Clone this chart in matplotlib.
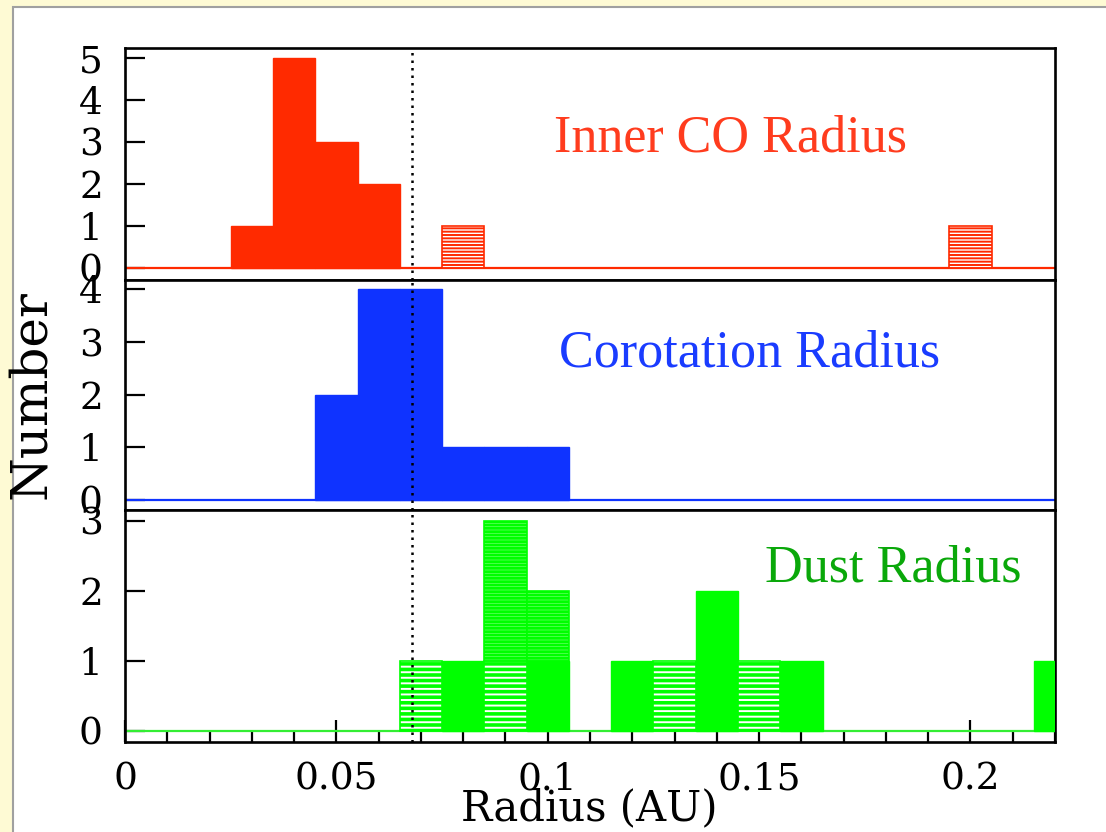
import numpy as np
import matplotlib
matplotlib.use('Agg')
import matplotlib.pyplot as plt
from matplotlib.patches import Rectangle
from matplotlib.ticker import MultipleLocator

# histogram bins are 0.01 AU wide, values are bin centres and counts
bin_width = 0.01

co_centers = [0.03, 0.04, 0.05, 0.06]
co_counts = [1, 5, 3, 2]
co_hatch_centers = [0.08, 0.20]
co_hatch_counts = [1, 1]

corot_centers = [0.05, 0.06, 0.07, 0.08, 0.09, 0.10]
corot_counts = [2, 4, 4, 1, 1, 1]

dust_centers = [0.08, 0.10, 0.12, 0.14, 0.16, 0.22]
dust_counts = [1, 1, 1, 2, 1, 1]
dust_hatch_centers = [0.07, 0.09, 0.13, 0.15]
dust_hatch_counts = [1, 1, 1, 1]
# second hatched group, stacked on top of the first count in the bin
dust_hatch2_centers = [0.09, 0.10]
dust_hatch2_counts = [2, 1]
dust_hatch2_bottom = [1, 1]

co_inner_median = 0.068

red = '#ff2a00'
blue = '#0f33ff'
green = '#00ff00'

W, H = 1106, 832
fig = plt.figure(figsize=(W / 100, H / 100), dpi=100)
fig.patch.set_facecolor('#fefad4')
# white slide panel with grey edge on left/top
fig.patches.append(Rectangle((13 / W, -0.01), 1, 1.01 - 7 / H, transform=fig.transFigure,
                             facecolor='white', edgecolor='#a0a0a0', linewidth=1.5, zorder=-5))

tick_font = dict(family='DejaVu Serif', size=27)


def panel(top, bottom, ylim, nticks):
    ax = fig.add_axes([125 / W, 1 - bottom / H, 930 / W, (bottom - top) / H])
    ax.set_xlim(0, 0.22)
    ax.set_ylim(*ylim)
    ax.set_axisbelow(True)
    for s in ax.spines.values():
        s.set_linewidth(1.9)
    ax.set_yticks(range(nticks + 1))
    ax.tick_params(axis='y', direction='in', length=14.5, width=1.6, left=True, right=False, pad=16)
    ax.tick_params(axis='x', bottom=False, labelbottom=False)
    for lab in ax.get_yticklabels():
        lab.set_fontfamily(tick_font['family'])
        lab.set_fontsize(tick_font['size'])
    ax.axvline(co_inner_median, color='black', lw=1.8, dashes=(1, 2.0), zorder=5)
    return ax


ax1 = panel(48, 280, (-0.29, 5.24), 5)
ax2 = panel(280, 510, (-0.19, 4.18), 4)
ax3 = panel(510, 742, (-0.157, 3.15), 3)

# Inner CO radius
ax1.axhline(0, color=red, lw=1.6, zorder=2)
ax1.bar(co_centers, co_counts, width=bin_width, color=red, edgecolor=red, linewidth=1.0, zorder=3)
with plt.rc_context({'hatch.linewidth': 1.4}):
    ax1.bar(co_hatch_centers, co_hatch_counts, width=bin_width, facecolor='white',
            edgecolor=red, hatch='-----', linewidth=1.2, zorder=3)

# Corotation radius
ax2.axhline(0, color=blue, lw=1.6, zorder=2)
ax2.bar(corot_centers, corot_counts, width=bin_width, color=blue, edgecolor=blue, linewidth=1.0, zorder=3)

# Dust radius
ax3.axhline(0, color='#33ee33', lw=1.6, zorder=2)
ax3.bar(dust_centers, dust_counts, width=bin_width, color=green, edgecolor=green, linewidth=1.0, zorder=3)
with plt.rc_context({'hatch.linewidth': 2.6}):
    ax3.bar(dust_hatch_centers, dust_hatch_counts, width=bin_width, facecolor='white',
            edgecolor=green, hatch='---', linewidth=1.2, zorder=3)
with plt.rc_context({'hatch.linewidth': 2.2}):
    ax3.bar(dust_hatch2_centers, dust_hatch2_counts, bottom=dust_hatch2_bottom, width=bin_width,
            facecolor='white', edgecolor=green, hatch='-----', linewidth=1.2, zorder=3)

ax3.xaxis.set_major_locator(MultipleLocator(0.05))
ax3.xaxis.set_minor_locator(MultipleLocator(0.01))
ax3.tick_params(axis='x', which='major', bottom=True, labelbottom=True, direction='in',
                length=16, width=1.6, pad=14)
ax3.tick_params(axis='x', which='minor', bottom=True, direction='in', length=7.5, width=1.6)
ax3.set_xticks([0, 0.05, 0.1, 0.15, 0.2])
ax3.set_xticklabels(['0', '0.05', '0.1', '0.15', '0.2'], **tick_font)

# panel titles
fig.text(731 / W, 1 - 139 / H, 'Inner CO Radius', color='#ff3c1e', family='Liberation Serif',
         size=37.5, ha='center', va='center')
fig.text(750 / W, 1 - 354 / H, 'Corotation Radius', color='#1a3cff', family='Liberation Serif',
         size=37.5, ha='center', va='center')
fig.text(893 / W, 1 - 568 / H, 'Dust Radius', color='#0aa80a', family='Liberation Serif',
         size=37.5, ha='center', va='center')

fig.text(31 / W, 1 - 395 / H, 'Number', family='DejaVu Serif', size=36, rotation=90,
         ha='center', va='center')
fig.text(589 / W, 1 - 808 / H, 'Radius (AU)', family='DejaVu Serif', size=30,
         ha='center', va='center')

fig.savefig('out.png', dpi=100, facecolor=fig.get_facecolor())
